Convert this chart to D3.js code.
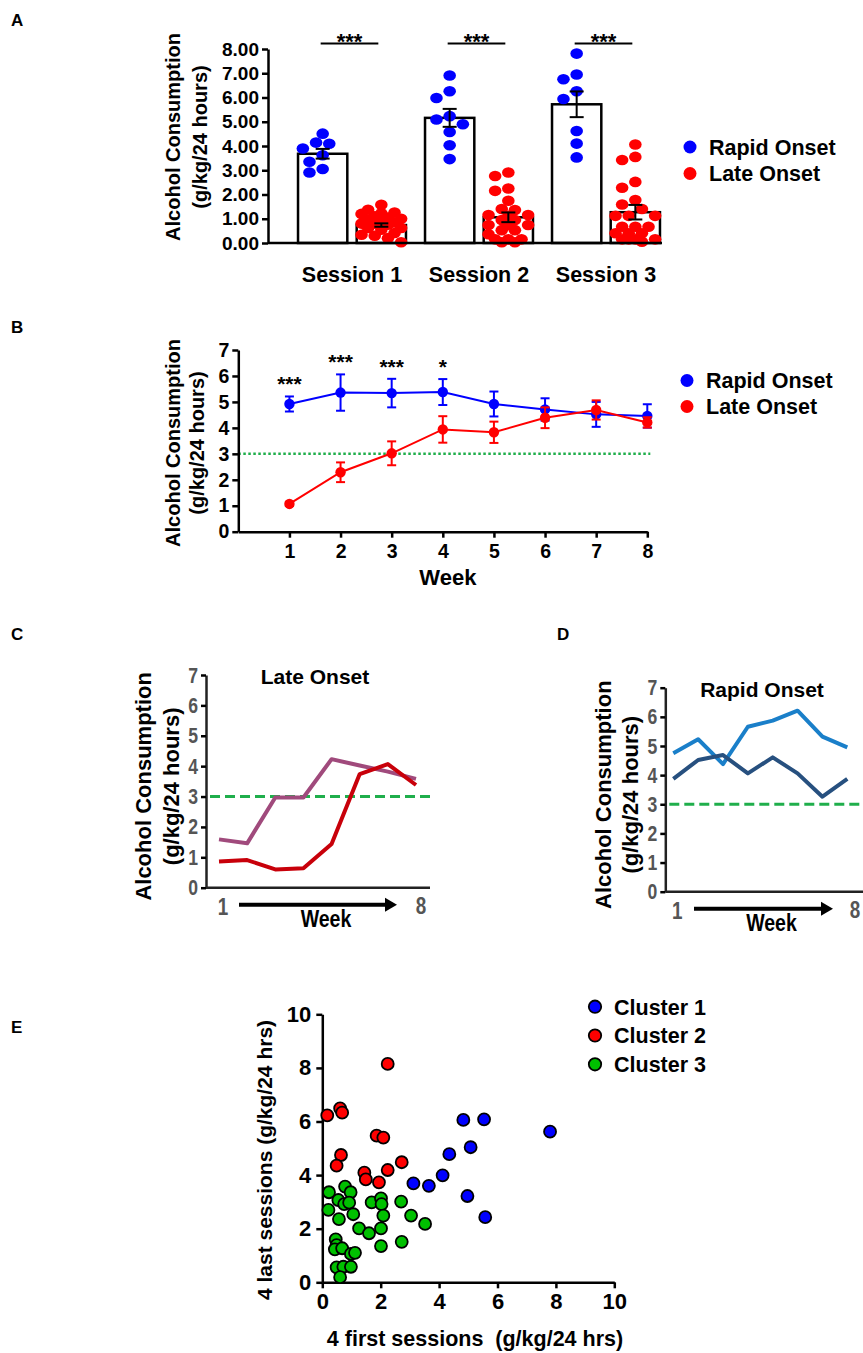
<!DOCTYPE html>
<html lang="en">
<head>
<meta charset="UTF-8">
<title>Alcohol consumption - onset groups</title>
<script src="https://cdnjs.cloudflare.com/ajax/libs/d3/7.8.5/d3.min.js"></script>
<style>
  body { margin: 0; background: #fff; }
  svg text { font-family: "Liberation Sans", Arial, sans-serif; font-weight: bold; }
</style>
</head>
<body>
<svg id="fig" width="863" height="1353"></svg>
<script>
// ---- panel A : sessions ----
const sessions = ["Session 1", "Session 2", "Session 3"];
const onsetGroups = ["Rapid Onset", "Late Onset"];
const rapidMean = [3.68, 5.16, 5.72];
const rapidSem  = [0.2, 0.37, 0.53];
const lateMean  = [0.74, 1.06, 1.27];
const lateSem   = [0.07, 0.2, 0.3];
const rapidS1 = [4.51, 4.14, 4.09, 3.9, 3.62, 3.35, 3.05, 2.91];
const rapidS2 = [6.91, 6.26, 5.98, 5.23, 5.09, 4.9, 4.58, 4.03, 3.46];
const rapidS3 = [7.81, 6.95, 6.75, 6.26, 5.94, 4.62, 4.1, 3.53];
const lateS1 = [1.58, 1.37, 1.26, 1.23, 1.2, 1.1, 1.05, 1.0, 0.96, 0.9, 0.85, 0.8, 0.8, 0.75, 0.62, 0.62, 0.55, 0.41, 0.34, 0.3, 0.2, 0.03];
const lateS2 = [2.91, 2.76, 2.25, 2.15, 1.74, 1.4, 1.36, 1.15, 1.15, 1.12, 0.95, 0.95, 0.74, 0.74, 0.74, 0.53, 0.53, 0.36, 0.15, 0.15, 0.15, 0.03, 0.03];
const lateS3 = [4.06, 3.55, 3.42, 2.52, 2.28, 1.77, 1.59, 1.4, 1.12, 1.12, 1.12, 0.67, 0.67, 0.67, 0.4, 0.4, 0.4, 0.15, 0.15, 0.15, 0.15, 0.05];
const sigA = ["***", "***", "***"];
const yTicksA = [0, 1, 2, 3, 4, 5, 6, 7, 8];

// ---- panel B : weekly means ----
const weeks = [1, 2, 3, 4, 5, 6, 7, 8];
const rapidWeek    = [4.92, 5.36, 5.34, 5.38, 4.92, 4.71, 4.52, 4.46];
const rapidWeekSem = [0.29, 0.7, 0.55, 0.5, 0.48, 0.43, 0.48, 0.45];
const lateWeek     = [1.07, 2.29, 3.02, 3.94, 3.83, 4.39, 4.69, 4.21];
const lateWeekSem  = [0.08, 0.38, 0.46, 0.51, 0.41, 0.4, 0.37, 0.2];
const sigB = ["***", "***", "***", "*", "", "", "", ""];
const threshold = 3;

// ---- panels C, D : example animals ----
const lateAnimal1  = [1.59, 1.46, 2.97, 2.97, 4.23, 4.02, 3.82, 3.58];
const lateAnimal2  = [0.86, 0.91, 0.6, 0.64, 1.44, 3.74, 4.07, 3.38];
const rapidAnimal1 = [4.75, 5.23, 4.38, 5.66, 5.87, 6.21, 5.32, 4.95];
const rapidAnimal2 = [3.87, 4.52, 4.69, 4.06, 4.61, 4.06, 3.26, 3.87];

// ---- panel E : clusters [first 4 sessions, last 4 sessions] ----
const clusterNames = ["Cluster 1", "Cluster 2", "Cluster 3"];
const cluster1 = [[4.83, 6.06], [5.54, 6.08], [7.8, 5.62], [5.08, 5.04], [4.35, 4.78], [4.12, 3.99],
  [3.12, 3.69], [3.65, 3.6], [4.97, 3.22], [5.58, 2.43]];
const cluster2 = [[2.24, 8.15], [0.61, 6.49], [0.68, 6.33], [0.17, 6.23], [1.86, 5.47], [2.09, 5.4],
  [0.64, 4.75], [0.49, 4.35], [1.44, 4.09], [1.49, 3.84], [1.94, 3.73], [2.24, 4.19], [2.72, 4.48]];
const cluster3 = [[0.23, 3.36], [0.78, 3.57], [0.97, 3.36], [0.55, 3.07], [0.75, 2.92], [0.92, 2.97],
  [0.21, 2.7], [0.57, 2.36], [1.06, 2.54], [1.69, 2.98], [2.01, 3.13], [2.03, 2.92], [2.09, 2.49],
  [2.7, 3.01], [3.04, 2.49], [3.52, 2.18], [1.26, 2.01], [1.6, 1.83], [2.01, 2.01], [2.01, 1.35],
  [2.72, 1.51], [0.46, 1.6], [0.49, 1.39], [0.43, 1.23], [0.68, 1.27], [0.98, 1.06], [1.12, 1.1],
  [0.49, 0.56], [0.72, 0.58], [0.98, 0.58], [0.61, 0.19]];
const eTicks = [0, 2, 4, 6, 8, 10];

const BLUE = "#0000ff", RED = "#ff0000", GREEN = "#1fae4b";
const svg = d3.select("#fig");
svg.append("rect").attr("width", 863).attr("height", 1353).attr("fill", "#fff");

function styleAxis(g, fs, col) {
  g.select(".domain").attr("stroke", "#000").attr("stroke-width", 2.5);
  g.selectAll(".tick line").attr("stroke", "#000").attr("stroke-width", 2.5);
  g.selectAll(".tick text").attr("font-size", fs).attr("fill", col || "#000")
    .style("font-family", null);
}
// squeeze text horizontally (condensed look)
function narrow(sel, k) {
  sel.each(function () {
    const w = this.getComputedTextLength();
    d3.select(this).attr("textLength", w * k).attr("lengthAdjust", "spacingAndGlyphs");
  });
}
function yLabel(lines, cxs, cy, fs) {
  lines.forEach((t, i) => {
    svg.append("text").attr("transform", `translate(${cxs[i]},${cy}) rotate(-90)`)
      .attr("text-anchor", "middle").attr("dy", "0.35em").attr("font-size", fs).text(t);
  });
}
function panelLetter(t, x, y) {
  svg.append("text").attr("x", x).attr("y", y).attr("font-size", 17).text(t);
}
// simple beeswarm: nearest free slot near the centre, otherwise the least crowded one
function swarm(vals, cx, y, step, maxK) {
  const placed = [];
  vals.slice().sort((a, b) => b - a).forEach(v => {
    const py = y(v);
    let best = null, bestD = -1;
    for (let k = 0; k <= 2 * maxK; k++) {
      const px = cx + (k === 0 ? 0 : (k % 2 ? -1 : 1) * Math.ceil(k / 2) * step);
      const dmin = placed.length ? d3.min(placed, p => Math.hypot((p.x - px) / 12.4, (p.y - py) / 10.4)) : 9;
      if (dmin >= 0.95) { best = px; break; }
      if (dmin > bestD + 0.05) { bestD = dmin; best = px; }
    }
    placed.push({ x: best, y: py });
  });
  return placed;
}

// ================= PANEL A =================
panelLetter("A", 11, 26);
const yA = d3.scaleLinear().domain([0, 8]).range([243, 49]);
const x0A = d3.scaleBand().domain(sessions).range([288.5, 669.5]).paddingInner(0.15).paddingOuter(0.075);
const x1A = d3.scaleBand().domain(onsetGroups).range([0, x0A.bandwidth()]).paddingInner(0.16);
const barData = sessions.flatMap((s, i) => [
  { s, g: onsetGroups[0], m: rapidMean[i], e: rapidSem[i], pts: [rapidS1, rapidS2, rapidS3][i], c: BLUE },
  { s, g: onsetGroups[1], m: lateMean[i], e: lateSem[i], pts: [lateS1, lateS2, lateS3][i], c: RED }
]);
const gA = svg.append("g");
gA.selectAll("rect.bar").data(barData).enter().append("rect")
  .attr("x", d => x0A(d.s) + x1A(d.g)).attr("width", x1A.bandwidth())
  .attr("y", d => yA(d.m)).attr("height", d => yA(0) - yA(d.m))
  .attr("fill", "#fff").attr("stroke", "#000").attr("stroke-width", 2.5);
barData.forEach(d => {
  const cx = x0A(d.s) + x1A(d.g) + x1A.bandwidth() / 2;
  gA.selectAll(null).data(swarm(d.pts, cx, yA, 6.6, 3)).enter().append("ellipse")
    .attr("cx", p => p.x).attr("cy", p => p.y).attr("rx", 6.3).attr("ry", 5.3).attr("fill", d.c);
  const eb = gA.append("g").attr("stroke", "#000").attr("stroke-width", 2);
  eb.append("line").attr("x1", cx).attr("x2", cx).attr("y1", yA(d.m + d.e)).attr("y2", yA(d.m - d.e));
  [d.m + d.e, d.m - d.e].forEach(v => eb.append("line").attr("x1", cx - 7).attr("x2", cx + 7).attr("y1", yA(v)).attr("y2", yA(v)));
});
const axA = gA.append("g").attr("transform", "translate(268,0)")
  .call(d3.axisLeft(yA).tickValues(yTicksA).tickFormat(d3.format(".2f")).tickSize(6).tickSizeOuter(0));
styleAxis(axA, 19);
gA.append("line").attr("x1", 268).attr("x2", 662).attr("y1", yA(0)).attr("y2", yA(0)).attr("stroke", "#000").attr("stroke-width", 2.5);
sessions.forEach((s, i) => {
  gA.append("text").attr("x", x0A(s) + x0A.bandwidth() / 2).attr("y", 282).attr("text-anchor", "middle").attr("font-size", 21.5).text(s);
  const xa = x0A(s) + x1A.bandwidth() / 2 - 2, xb = x0A(s) + x1A(onsetGroups[1]) + x1A.bandwidth() / 2 - 3;
  gA.append("line").attr("x1", xa).attr("x2", xb).attr("y1", 43.5).attr("y2", 43.5).attr("stroke", "#000").attr("stroke-width", 2);
  gA.append("text").attr("x", (xa + xb) / 2).attr("y", 49).attr("text-anchor", "middle").attr("font-size", 22).text(sigA[i]);
});
yLabel(["Alcohol Consumption", "(g/kg/24 hours)"], [173, 200], 137, 20);
function onsetLegend(x, ys) {
  [BLUE, RED].forEach((c, i) => {
    svg.append("circle").attr("cx", x).attr("cy", ys[i]).attr("r", 6.5).attr("fill", c);
    svg.append("text").attr("x", x + 19).attr("y", ys[i] + 7.5).attr("font-size", 21.5).text(onsetGroups[i]);
  });
}
onsetLegend(690, [147, 173.5]);

// ================= PANEL B =================
panelLetter("B", 11, 333);
const xB = d3.scaleLinear().domain([0, 8]).range([238.3, 647.3]);
const yB = d3.scaleLinear().domain([0, 7]).range([531.7, 350]);
const gB = svg.append("g");
gB.append("line").attr("x1", xB(0)).attr("x2", xB(8) + 3).attr("y1", yB(threshold)).attr("y2", yB(threshold))
  .attr("stroke", GREEN).attr("stroke-width", 2.5).attr("stroke-dasharray", "2.5,2.5");
[{ m: rapidWeek, e: rapidWeekSem, c: BLUE }, { m: lateWeek, e: lateWeekSem, c: RED }].forEach(s => {
  const pts = weeks.map((w, i) => ({ w, m: s.m[i], e: s.e[i] }));
  gB.append("path").attr("d", d3.line().x(d => xB(d.w)).y(d => yB(d.m))(pts))
    .attr("fill", "none").attr("stroke", s.c).attr("stroke-width", 2);
  const eb = gB.append("g").attr("stroke", s.c).attr("stroke-width", 2);
  pts.forEach(d => {
    eb.append("line").attr("x1", xB(d.w)).attr("x2", xB(d.w)).attr("y1", yB(d.m + d.e)).attr("y2", yB(d.m - d.e));
    [d.m + d.e, d.m - d.e].forEach(v => eb.append("line").attr("x1", xB(d.w) - 4.5).attr("x2", xB(d.w) + 4.5).attr("y1", yB(v)).attr("y2", yB(v)));
  });
  gB.selectAll(null).data(pts).enter().append("circle")
    .attr("cx", d => xB(d.w)).attr("cy", d => yB(d.m)).attr("r", 5.2).attr("fill", s.c);
});
weeks.forEach((w, i) => {
  if (!sigB[i]) return;
  const top = Math.max(rapidWeek[i] + rapidWeekSem[i], lateWeek[i] + lateWeekSem[i]);
  gB.append("text").attr("x", xB(w)).attr("y", yB(top) - 5).attr("text-anchor", "middle").attr("font-size", 21).text(sigB[i]);
});
const axBy = gB.append("g").attr("transform", `translate(${xB(0)},0)`)
  .call(d3.axisLeft(yB).ticks(7).tickSize(6).tickSizeOuter(0));
styleAxis(axBy, 19.5);
const axBx = gB.append("g").attr("transform", `translate(0,${yB(0)})`)
  .call(d3.axisBottom(xB).tickValues(weeks).tickSize(6).tickSizeOuter(0).tickPadding(6));
styleAxis(axBx, 19.5);
gB.append("text").attr("x", xB(4.1)).attr("y", 585).attr("text-anchor", "middle").attr("font-size", 22).text("Week");
yLabel(["Alcohol Consumption", "(g/kg/24 hours)"], [173, 197], 443, 20);
onsetLegend(687, [380.5, 406.5]);

// ================= PANELS C, D =================
function examplePanel(o) {
  const x = d3.scaleLinear().domain([1, 8]).range(o.xr);
  const y = d3.scaleLinear().domain([0, 7]).range(o.yr);
  const g = svg.append("g");
  g.append("line").attr("x1", o.axisX + 4).attr("x2", o.axisEnd).attr("y1", y(threshold)).attr("y2", y(threshold))
    .attr("stroke", GREEN).attr("stroke-width", 3).attr("stroke-dasharray", "10,5");
  o.series.forEach(s => {
    g.append("path").attr("d", d3.line().x((d, i) => x(weeks[i])).y(d => y(d))(s.v))
      .attr("fill", "none").attr("stroke", s.c).attr("stroke-width", 4).attr("stroke-linejoin", "round");
  });
  const ay = g.append("g").attr("transform", `translate(${o.axisX},0)`)
    .call(d3.axisLeft(y).ticks(7).tickSize(5).tickSizeOuter(0).tickPadding(3));
  styleAxis(ay, 22, "#555");
  ay.select(".domain").attr("stroke", "#222");
  narrow(ay.selectAll(".tick text"), 0.8);
  g.append("line").attr("x1", o.axisX).attr("x2", o.axisEnd).attr("y1", y(0)).attr("y2", y(0)).attr("stroke", "#222").attr("stroke-width", 2.5);
  g.append("text").attr("x", o.titleX).attr("y", o.yr[1] + 9).attr("text-anchor", "middle").attr("font-size", 21).text(o.title);
  // week arrow below the axis
  const ya = y(0) + 17;
  const n1 = g.append("text").attr("x", x(1) + 4).attr("y", y(0) + 27).attr("text-anchor", "middle").attr("font-size", 23).attr("fill", "#555").text(weeks[0]);
  const n8 = g.append("text").attr("x", o.eightX).attr("y", y(0) + 26).attr("text-anchor", "middle").attr("font-size", 23).attr("fill", "#555").text(weeks[7]);
  g.append("line").attr("x1", o.arrow[0]).attr("x2", o.arrow[1] - 10).attr("y1", ya).attr("y2", ya).attr("stroke", "#000").attr("stroke-width", 4);
  g.append("path").attr("d", `M${o.arrow[1] - 12},${ya - 7}L${o.arrow[1]},${ya}L${o.arrow[1] - 12},${ya + 7}Z`).attr("fill", "#000");
  const wk = g.append("text").attr("x", (o.arrow[0] + o.arrow[1]) / 2 + 8).attr("y", y(0) + 39).attr("text-anchor", "middle").attr("font-size", 23).text("Week");
  narrow(n1, 0.82); narrow(n8, 0.82); narrow(wk, 0.85);
  yLabel(["Alcohol Consumption", "(g/kg/24 hours)"], o.labX, (o.yr[0] + o.yr[1]) / 2 + 5, 22);
}
panelLetter("C", 11, 640);
examplePanel({ xr: [219, 416], yr: [887.7, 675], axisX: 206, axisEnd: 430, title: "Late Onset", titleX: 315,
  eightX: 421, arrow: [239, 397], labX: [143, 171],
  series: [{ v: lateAnimal1, c: "#a04a7c" }, { v: lateAnimal2, c: "#c8000a" }] });
panelLetter("D", 557, 640);
examplePanel({ xr: [673.3, 847.3], yr: [891.7, 687.7], axisX: 665.3, axisEnd: 863, title: "Rapid Onset", titleX: 762,
  eightX: 855, arrow: [694, 833], labX: [603, 630],
  series: [{ v: rapidAnimal1, c: "#1a7fc9" }, { v: rapidAnimal2, c: "#27507f" }] });

// ================= PANEL E =================
panelLetter("E", 11, 1033);
const xE = d3.scaleLinear().domain([0, 10]).range([322.3, 614.3]);
const yE = d3.scaleLinear().domain([0, 10]).range([1282.3, 1014.3]);
const gE = svg.append("g");
const axEy = gE.append("g").attr("transform", `translate(${xE(0)},0)`)
  .call(d3.axisLeft(yE).tickValues(eTicks).tickSize(6).tickSizeOuter(0).tickPadding(5));
styleAxis(axEy, 22);
const axEx = gE.append("g").attr("transform", `translate(0,${yE(0)})`)
  .call(d3.axisBottom(xE).tickValues(eTicks).tickSize(6).tickSizeOuter(0).tickPadding(5));
styleAxis(axEx, 22);
const clusterColors = [BLUE, RED, "#00c000"];
[cluster1, cluster2, cluster3].forEach((pts, i) => {
  gE.selectAll(null).data(pts).enter().append("circle")
    .attr("cx", d => xE(d[0])).attr("cy", d => yE(d[1])).attr("r", 6)
    .attr("fill", clusterColors[i]).attr("stroke", "#000").attr("stroke-width", 1.8);
  gE.append("circle").attr("cx", 595).attr("cy", 1006.7 + i * 28.8).attr("r", 6.2)
    .attr("fill", clusterColors[i]).attr("stroke", "#000").attr("stroke-width", 1.8);
  gE.append("text").attr("x", 614).attr("y", 1014.5 + i * 28.8).attr("font-size", 21.5).text(clusterNames[i]);
});
gE.append("text").attr("x", 475).attr("y", 1346).attr("text-anchor", "middle").attr("font-size", 21.5)
  .attr("xml:space", "preserve").text("4 first sessions  (g/kg/24 hrs)");
yLabel(["4 last sessions (g/kg/24 hrs)"], [265], 1160, 21);
</script>
</body>
</html>
